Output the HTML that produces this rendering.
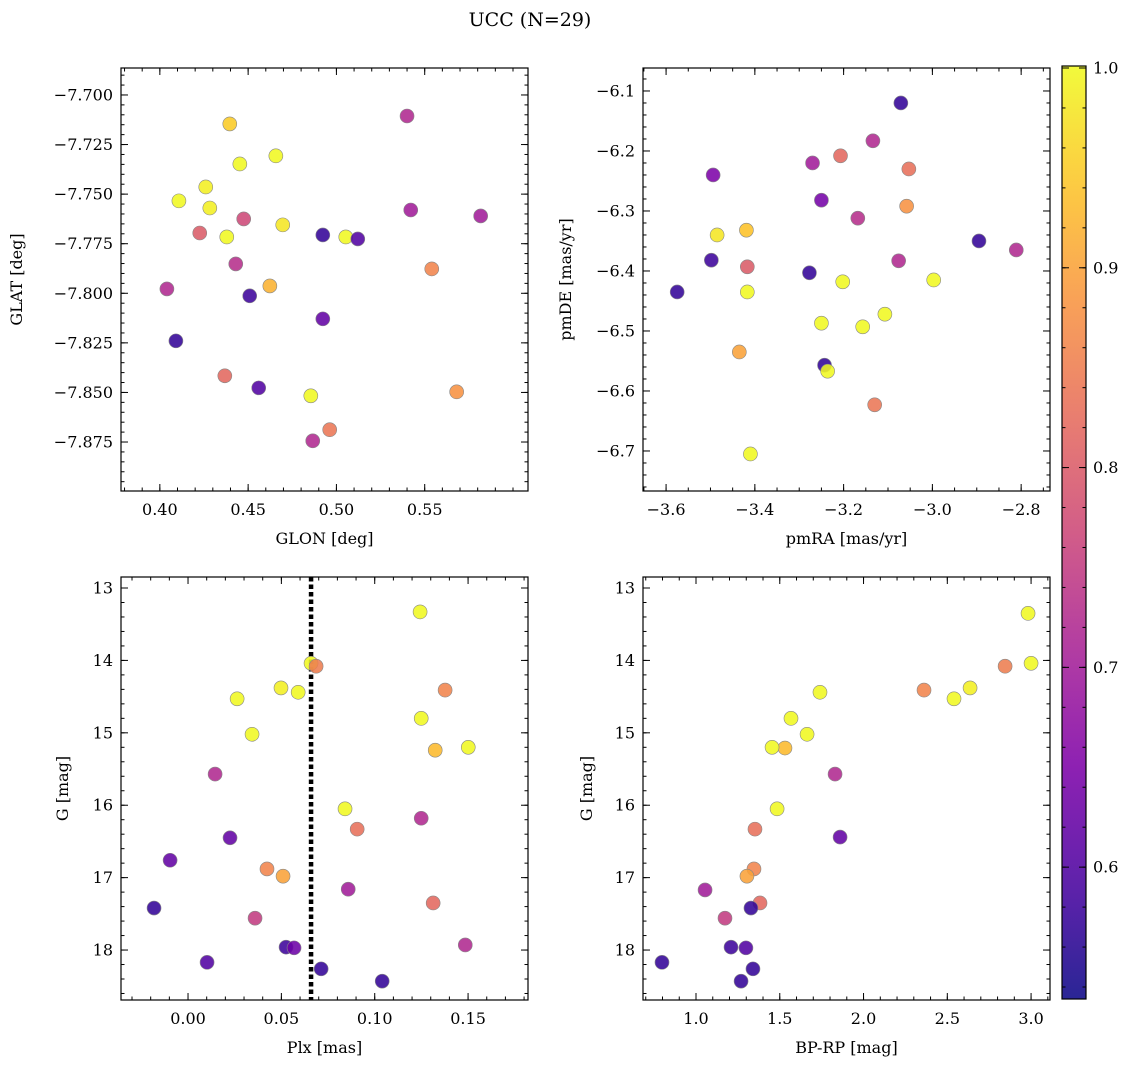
<!DOCTYPE html>
<html><head><meta charset="utf-8"><style>
html,body{margin:0;padding:0;background:#fff;}
svg text{font-family:"DejaVu Serif","Liberation Serif",serif;fill:#000;}
</style></head><body>
<svg id="fig" width="1136" height="1067" xmlns="http://www.w3.org/2000/svg">
<text x="530" y="26" font-size="19" text-anchor="middle">UCC (N=29)</text>
</svg>
<script>
// ---- data ----
const tlGlon=[0.540,0.4396,0.4657,0.4453,0.4260,0.4108,0.4283,0.5421,0.4475,0.5817,0.4696,0.4226,0.4379,0.4923,0.5053,0.5121,0.4430,0.5540,0.4623,0.4040,0.4509,0.4923,0.4091,0.4368,0.4560,0.4855,0.5681,0.4962,0.4866];
const tlGlat=[-7.7106,-7.7146,-7.7307,-7.7348,-7.7464,-7.7534,-7.7570,-7.7580,-7.7625,-7.7610,-7.7655,-7.7696,-7.7716,-7.7706,-7.7716,-7.7726,-7.7852,-7.7877,-7.7963,-7.7978,-7.8013,-7.8129,-7.8240,-7.8416,-7.8477,-7.8517,-7.8497,-7.8688,-7.8744];
const tlProb=[0.72,0.95,1.0,1.0,0.99,1.0,0.99,0.70,0.77,0.70,0.98,0.80,1.0,0.57,1.0,0.60,0.73,0.86,0.92,0.72,0.58,0.62,0.57,0.82,0.60,1.0,0.88,0.84,0.72];
const trPmra=[-3.071,-3.134,-3.270,-3.207,-3.494,-3.053,-3.250,-3.058,-3.168,-3.485,-3.419,-3.498,-3.417,-3.277,-3.076,-2.895,-2.811,-3.575,-3.417,-2.997,-3.202,-3.107,-3.250,-3.157,-3.435,-3.243,-3.236,-3.130,-3.410];
const trPmde=[-6.120,-6.183,-6.220,-6.208,-6.240,-6.230,-6.282,-6.292,-6.312,-6.340,-6.332,-6.382,-6.393,-6.403,-6.383,-6.350,-6.365,-6.435,-6.435,-6.415,-6.418,-6.472,-6.487,-6.493,-6.535,-6.557,-6.567,-6.623,-6.705];
const trProb=[0.57,0.72,0.70,0.82,0.65,0.83,0.64,0.88,0.73,0.98,0.94,0.58,0.80,0.57,0.72,0.57,0.72,0.57,1.0,1.0,1.0,1.0,1.0,1.0,0.90,0.57,1.0,0.84,1.0];
const blPlx=[0.1243,0.0659,0.0686,0.0498,0.0590,0.0263,0.1377,0.1249,0.0343,0.1324,0.1501,0.0145,0.0841,0.0906,0.1249,0.0225,-0.0096,0.0423,0.0509,0.0858,0.1313,-0.0182,0.0359,0.0525,0.0568,0.1485,0.0102,0.0713,0.1040];
const blG=[13.33,14.04,14.08,14.38,14.44,14.53,14.41,14.80,15.02,15.24,15.20,15.57,16.05,16.33,16.18,16.45,16.76,16.88,16.98,17.16,17.35,17.42,17.56,17.96,17.97,17.93,18.17,18.26,18.43];
const blProb=[1.0,1.0,0.85,0.99,1.0,1.0,0.86,1.0,1.0,0.93,1.0,0.72,1.0,0.83,0.72,0.62,0.62,0.86,0.90,0.70,0.82,0.57,0.75,0.58,0.63,0.72,0.60,0.57,0.57];
const plxLine=0.0659;
const brBprp=[2.982,3.000,2.845,2.636,2.540,2.361,1.740,1.567,1.663,1.531,1.454,1.830,1.484,1.352,1.860,1.346,1.304,1.054,1.382,1.328,1.173,1.209,1.298,0.797,1.340,1.269];
const brG=[13.35,14.04,14.08,14.38,14.53,14.41,14.44,14.80,15.02,15.21,15.20,15.57,16.05,16.33,16.44,16.88,16.98,17.17,17.35,17.42,17.56,17.96,17.97,18.17,18.26,18.43];
const brProb=[1.0,1.0,0.85,0.99,1.0,0.86,1.0,1.0,1.0,0.93,1.0,0.72,1.0,0.83,0.62,0.86,0.90,0.70,0.82,0.57,0.75,0.58,0.60,0.57,0.57,0.57];
const cbTicks=[0.6,0.7,0.8,0.9,1.0];

const NS="http://www.w3.org/2000/svg";
const svg=document.getElementById('fig');
function mk(tag,attrs,parent){const e=document.createElementNS(NS,tag);for(const k in attrs)e.setAttribute(k,attrs[k]);(parent||svg).appendChild(e);return e;}
const stops=[[0,[13,8,135]],[0.125,[75,3,161]],[0.25,[126,3,168]],[0.375,[168,34,150]],[0.5,[204,71,120]],[0.625,[230,108,92]],[0.75,[248,149,64]],[0.875,[253,196,39]],[1,[240,249,33]]];
const vmin=0.534,vmax=1.001;
function plasma(p){let t=Math.max(0,Math.min(1,(p-vmin)/(vmax-vmin)));for(let i=1;i<stops.length;i++){if(t<=stops[i][0]){const a=stops[i-1],b=stops[i];const f=(t-a[0])/(b[0]-a[0]);const c=a[1].map((v,j)=>Math.round(v+(b[1][j]-v)*f));return `rgb(${c})`;}}return 'rgb(240,249,33)';}
function fmt(v,d){let s=v.toFixed(d);return s.replace('-','\u2212');}

function panel(o){
  const g=mk('g',{});
  
  
  const X=v=>o.x0+(v-o.xmin)/(o.xmax-o.xmin)*(o.x1-o.x0);
  const Y=o.yinv?v=>o.y0+(v-o.ymin)/(o.ymax-o.ymin)*(o.y1-o.y0):v=>o.y1-(v-o.ymin)/(o.ymax-o.ymin)*(o.y1-o.y0);
  const tg=mk('g',{stroke:'#000','stroke-width':1},g);
  function ticksX(step,len){const s=Math.ceil(o.xmin/step-1e-6);for(let k=s;k*step<=o.xmax+1e-9;k++){const x=X(k*step);mk('line',{x1:x,x2:x,y1:o.y1,y2:o.y1-len},tg);mk('line',{x1:x,x2:x,y1:o.y0,y2:o.y0+len},tg);}}
  function ticksY(step,len){const s=Math.ceil(o.ymin/step-1e-6);for(let k=s;k*step<=o.ymax+1e-9;k++){const y=Y(k*step);mk('line',{x1:o.x0,x2:o.x0+len,y1:y,y2:y},tg);mk('line',{x1:o.x1,x2:o.x1-len,y1:y,y2:y},tg);}}
  ticksX(o.xminor,3.5);ticksY(o.yminor,3.5);
  o.xt.forEach(v=>{const x=X(v);mk('line',{x1:x,x2:x,y1:o.y1,y2:o.y1-7},tg);mk('line',{x1:x,x2:x,y1:o.y0,y2:o.y0+7},tg);
    const t=mk('text',{x:x,y:o.y1+24,'font-size':16,'text-anchor':'middle'},g);t.textContent=fmt(v,o.xd);
    });
  o.yt.forEach(v=>{const y=Y(v);mk('line',{x1:o.x0,x2:o.x0+7,y1:y,y2:y},tg);mk('line',{x1:o.x1,x2:o.x1-7,y1:y,y2:y},tg);
    const t=mk('text',{x:o.x0-8,y:y+5.5,'font-size':16,'text-anchor':'end'},g);t.textContent=fmt(v,o.yd);
    });
  if(o.vline!==undefined){const l=mk('line',{x1:X(o.vline),x2:X(o.vline),y1:o.y0,y2:o.y1,stroke:'#000','stroke-width':4.5,'stroke-dasharray':'4.5 3'},g);
    }
  o.xs.forEach((v,i)=>{const c=mk('circle',{cx:X(v),cy:Y(o.ys[i]),r:7,fill:plasma(o.ps[i]),'fill-opacity':0.88,stroke:'#888','stroke-width':0.6},g);
    });
  const fr=mk('rect',{x:o.x0,y:o.y0,width:o.x1-o.x0,height:o.y1-o.y0,fill:'none',stroke:'#000','stroke-width':1.2},g);
  
  const xl=mk('text',{x:(o.x0+o.x1)/2,y:o.y1+53,'font-size':16,'text-anchor':'middle'},g);xl.textContent=o.xlabel;
  
  const yc=(o.y0+o.y1)/2;
  const yl=mk('text',{x:o.ylx,y:yc,'font-size':16,'text-anchor':'middle',transform:`rotate(-90 ${o.ylx} ${yc})`},g);yl.textContent=o.ylabel;
  
}
panel({name:'glon-glat-panel',x0:121,x1:528,y0:68,y1:491,xmin:0.378,xmax:0.6085,ymin:-7.8997,ymax:-7.6864,
  xt:[0.40,0.45,0.50,0.55],xd:2,yt:[-7.700,-7.725,-7.750,-7.775,-7.800,-7.825,-7.850,-7.875],yd:3,xminor:0.01,yminor:0.005,
  xs:tlGlon,ys:tlGlat,ps:tlProb,xlabel:'GLON [deg]',ylabel:'GLAT [deg]',ylx:22});
panel({name:'pm-panel',x0:643,x1:1050,y0:68,y1:491,xmin:-3.652,xmax:-2.735,ymin:-6.7667,ymax:-6.0617,
  xt:[-3.6,-3.4,-3.2,-3.0,-2.8],xd:1,yt:[-6.1,-6.2,-6.3,-6.4,-6.5,-6.6,-6.7],yd:1,xminor:0.05,yminor:0.02,
  xs:trPmra,ys:trPmde,ps:trProb,xlabel:'pmRA [mas/yr]',ylabel:'pmDE [mas/yr]',ylx:571});
panel({name:'plx-g-panel',x0:121,x1:528,y0:577,y1:1000,xmin:-0.0359,xmax:0.1821,ymin:12.848,ymax:18.69,yinv:true,
  xt:[0.00,0.05,0.10,0.15],xd:2,yt:[13,14,15,16,17,18],yd:0,xminor:0.01,yminor:0.2,vline:plxLine,
  xs:blPlx,ys:blG,ps:blProb,xlabel:'Plx [mas]',ylabel:'G [mag]',ylx:68});
panel({name:'cmd-panel',x0:643,x1:1050,y0:577,y1:1000,xmin:0.6836,xmax:3.113,ymin:12.848,ymax:18.69,yinv:true,
  xt:[1.0,1.5,2.0,2.5,3.0],xd:1,yt:[13,14,15,16,17,18],yd:0,xminor:0.1,yminor:0.2,
  xs:brBprp,ys:brG,ps:brProb,xlabel:'BP-RP [mag]',ylabel:'G [mag]',ylx:592});
// colorbar
const cb=mk('g',{});


const cx0=1062,cx1=1086,cy0=66,cy1=999,cmin=0.534,cmax=1.001;
const CY=v=>cy1-(v-cmin)/(cmax-cmin)*(cy1-cy0);
const defs=mk('defs',{},cb);const lg=mk('linearGradient',{id:'cbg',x1:0,y1:1,x2:0,y2:0},defs);
for(let i=0;i<=20;i++){const v=cmin+(cmax-cmin)*i/20;mk('stop',{offset:i/20,'stop-color':plasma(v),'stop-opacity':0.88},lg);}
mk('rect',{x:cx0,y:cy0,width:cx1-cx0,height:cy1-cy0,fill:'url(#cbg)'},cb);
for(let k=27;k<=50;k++){const v=k*0.02;if(v<cmin||v>cmax)continue;const y=CY(v);mk('line',{x1:cx1,x2:cx1-3.5,y1:y,y2:y,stroke:'#000'},cb);mk('line',{x1:cx0,x2:cx0+3.5,y1:y,y2:y,stroke:'#000'},cb);}
cbTicks.forEach(v=>{const y=CY(v);mk('line',{x1:cx1,x2:cx1-7,y1:y,y2:y,stroke:'#000'},cb);mk('line',{x1:cx0,x2:cx0+7,y1:y,y2:y,stroke:'#000'},cb);
  const t=mk('text',{x:cx1+7,y:y+5.5,'font-size':16},cb);t.textContent=v.toFixed(1);
  });
mk('rect',{x:cx0,y:cy0,width:cx1-cx0,height:cy1-cy0,fill:'none',stroke:'#000','stroke-width':1.2},cb);
</script>
</body></html>
